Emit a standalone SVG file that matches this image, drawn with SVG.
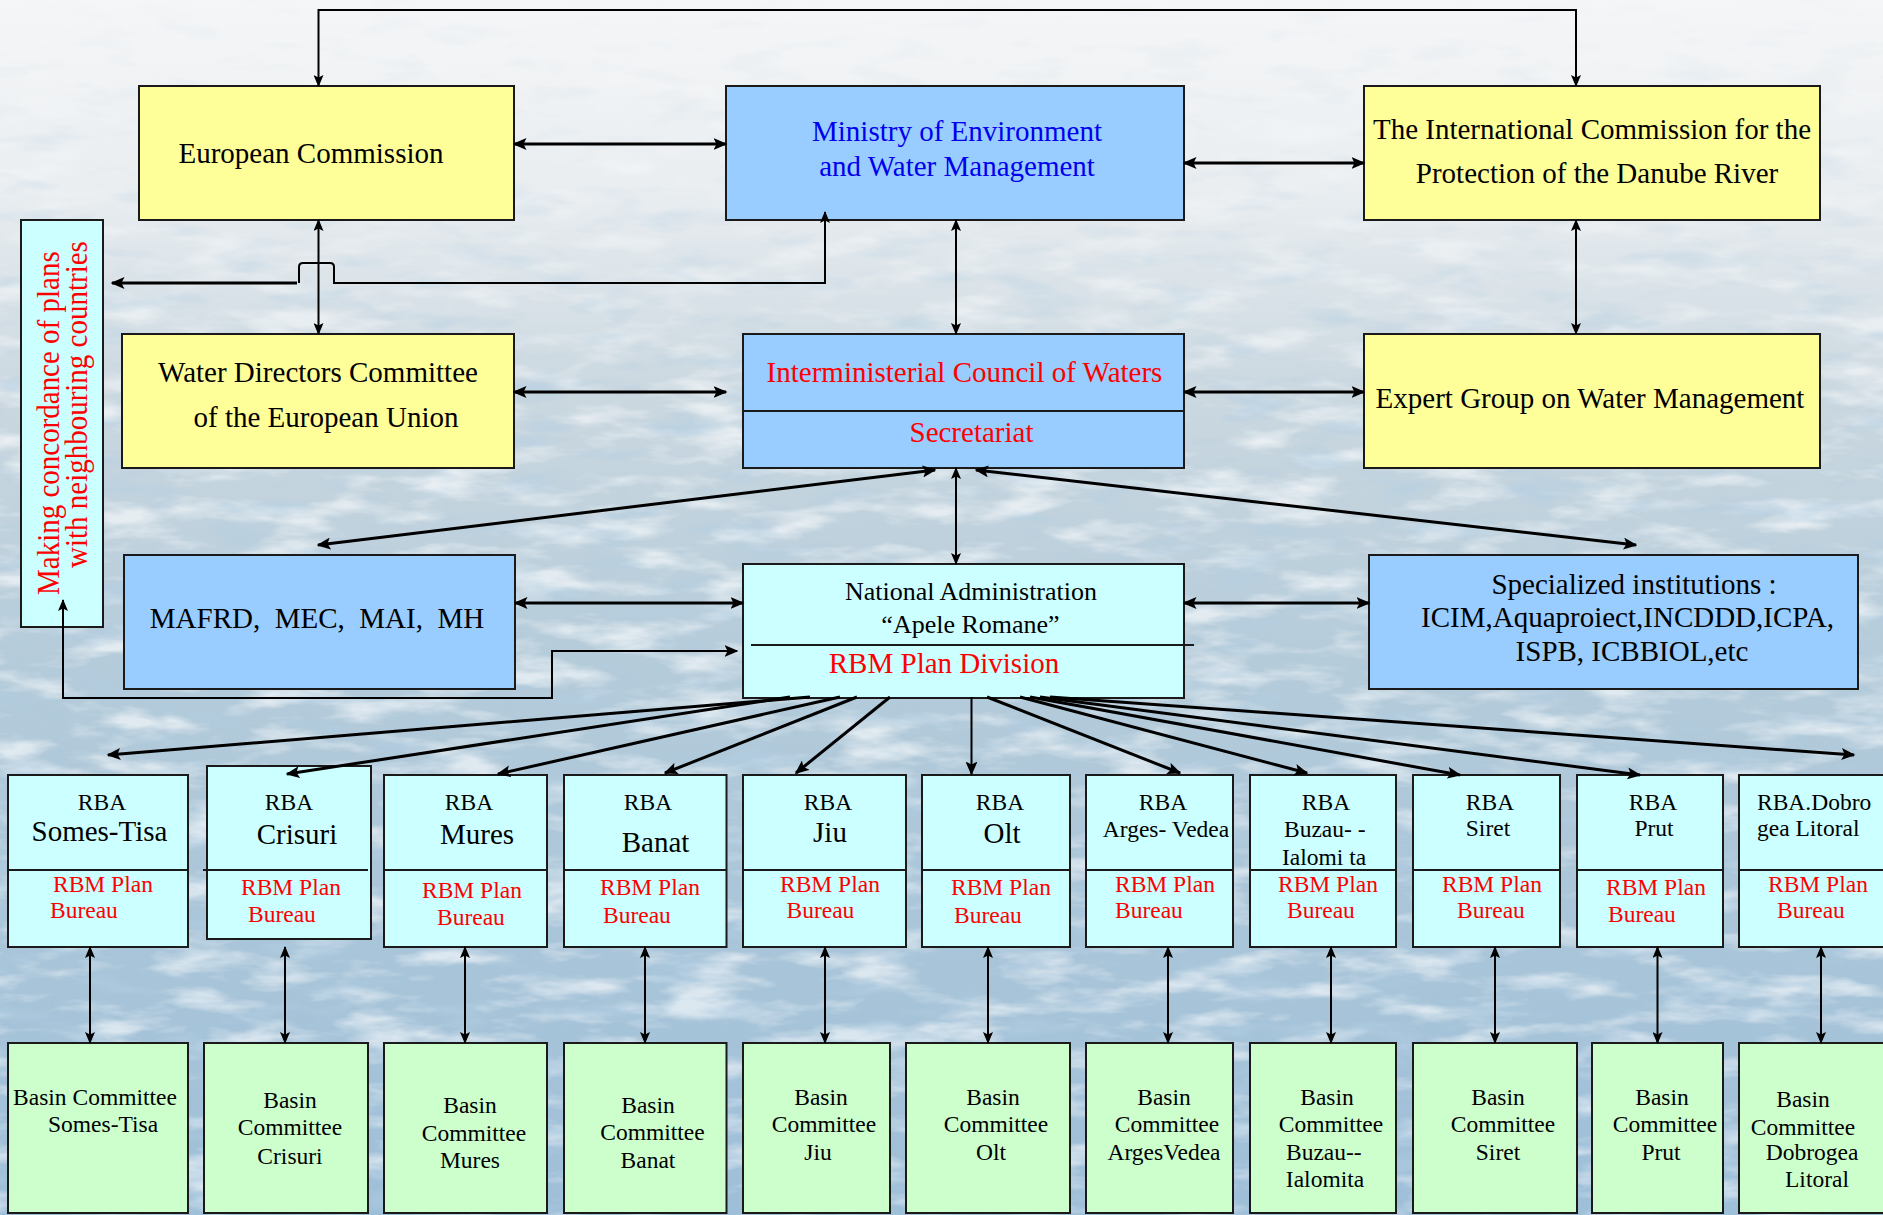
<svg xmlns="http://www.w3.org/2000/svg" width="1883" height="1215" viewBox="0 0 1883 1215">
<defs>
<style>
.box{stroke:#1a1a1a;stroke-width:2}
.y{fill:#FFFF99}.b{fill:#99CCFF}.c{fill:#CCFFFF}.g{fill:#CCFFCC}
.dv{stroke:#1a1a1a;stroke-width:2}
text{font-family:"Liberation Serif","Times New Roman",serif;font-size:29px;fill:#000;text-anchor:middle}
.st{text-anchor:start}
.red{fill:#FF0000}
.blu{fill:#0000EE}
.s{font-size:23.5px}
.m{font-size:26px}
.pre{white-space:pre}
.ln{fill:none;stroke:#000;stroke-width:3}
.th{fill:none;stroke:#000;stroke-width:2}
</style>
<linearGradient id="bg" x1="0" y1="0" x2="0" y2="1">
<stop offset="0" stop-color="#F5F6F7"/>
<stop offset="0.15" stop-color="#EAEEF1"/>
<stop offset="0.32" stop-color="#CBD8E0"/>
<stop offset="0.55" stop-color="#B4CBDA"/>
<stop offset="1" stop-color="#9EBFD8"/>
</linearGradient>
<linearGradient id="fade" x1="0" y1="0" x2="0" y2="1">
<stop offset="0" stop-color="#fff" stop-opacity="0.1"/>
<stop offset="0.18" stop-color="#fff" stop-opacity="0.5"/>
<stop offset="0.35" stop-color="#fff" stop-opacity="1"/>
<stop offset="1" stop-color="#fff" stop-opacity="1"/>
</linearGradient>
<mask id="fm" maskUnits="userSpaceOnUse" x="0" y="0" width="1883" height="1215">
<rect width="1883" height="1215" fill="url(#fade)"/>
</mask>
<filter id="tex1" filterUnits="userSpaceOnUse" x="0" y="0" width="1883" height="1215">
<feTurbulence type="fractalNoise" baseFrequency="0.012 0.042" numOctaves="4" seed="7"/>
<feColorMatrix type="matrix" values="0 0 0 0 1  0 0 0 0 1  0 0 0 0 1  3.2 0 0 0 -1.5"/>
</filter>
<filter id="tex2" filterUnits="userSpaceOnUse" x="0" y="0" width="1883" height="1215">
<feTurbulence type="fractalNoise" baseFrequency="0.014 0.048" numOctaves="3" seed="21"/>
<feColorMatrix type="matrix" values="0 0 0 0 0.45  0 0 0 0 0.62  0 0 0 0 0.77  -3.2 0 0 0 1.5"/>
</filter>
<marker id="a" viewBox="0 0 14 12" refX="12.5" refY="6" markerWidth="14" markerHeight="12" markerUnits="userSpaceOnUse" orient="auto-start-reverse">
<path d="M0,0 L14,6 L0,12 L3,6 z" fill="#000"/>
</marker>
<marker id="as" viewBox="0 0 12 10" refX="11" refY="5" markerWidth="12" markerHeight="10" markerUnits="userSpaceOnUse" orient="auto-start-reverse">
<path d="M0,0 L12,5 L0,10 L2.5,5 z" fill="#000"/>
</marker>
</defs>

<g id="background">
<rect width="1883" height="1215" fill="url(#bg)"/>
<g mask="url(#fm)">
<rect width="1883" height="1215" filter="url(#tex1)" opacity="0.6"/>
<rect width="1883" height="1215" filter="url(#tex2)" opacity="0.55"/>
</g>
</g>

<g id="european-commission">
<rect class="box y" x="139" y="86" width="375" height="134"/>
<text x="311" y="163">European Commission</text>
</g>
<g id="ministry">
<rect class="box b" x="726" y="86" width="458" height="134"/>
<text class="blu" x="957" y="141">Ministry of Environment</text>
<text class="blu" x="957" y="176">and Water Management</text>
</g>
<g id="icpdr">
<rect class="box y" x="1364" y="86" width="456" height="134"/>
<text x="1592" y="139">The International Commission for the</text>
<text x="1597" y="183">Protection of the Danube River</text>
</g>
<g id="neighbour-plans">
<rect class="box c" x="21" y="220" width="82" height="407"/>
<text class="red st" transform="translate(59,595) rotate(-90) scale(1,1.1)">Making concordance of plans</text>
<text class="red st" transform="translate(87,568) rotate(-90) scale(1,1.1)">with neighbouring countries</text>
</g>
<g id="water-directors">
<rect class="box y" x="122" y="334" width="392" height="134"/>
<text x="318" y="382">Water Directors Committee</text>
<text x="326" y="427">of the European Union</text>
</g>
<g id="interministerial-council">
<rect class="box b" x="743" y="334" width="441" height="134"/>
<line class="dv" x1="743" y1="411" x2="1184" y2="411"/>
<text class="red" x="964.5" y="382">Interministerial Council of Waters</text>
<text class="red" x="971.5" y="442">Secretariat</text>
</g>
<g id="expert-group">
<rect class="box y" x="1364" y="334" width="456" height="134"/>
<text x="1590" y="408">Expert Group on Water Management</text>
</g>
<g id="ministries">
<rect class="box b" x="124" y="555" width="391" height="134"/>
<text class="pre" x="317" y="628">MAFRD,  MEC,  MAI,  MH</text>
</g>
<g id="national-administration">
<rect class="box c" x="743" y="564" width="441" height="134"/>
<line class="dv" x1="751" y1="645" x2="1194" y2="645"/>
<text class="m" x="971" y="600">National Administration</text>
<text class="m" x="970.5" y="633">“Apele Romane”</text>
<text class="red" x="944" y="673">RBM Plan Division</text>
</g>
<g id="specialized-institutions">
<rect class="box b" x="1369" y="555" width="489" height="134"/>
<text x="1634" y="594">Specialized institutions :</text>
<text x="1627.5" y="627">ICIM,Aquaproiect,INCDDD,ICPA,</text>
<text x="1632" y="661">ISPB, ICBBIOL,etc</text>
</g>

<g id="rba-somes-tisa">
<rect class="box c" x="8" y="775" width="180" height="172"/>
<line class="dv" x1="8" y1="870" x2="188" y2="870"/>
<text class="s" x="102" y="810">RBA</text>
<text x="99.5" y="841">Somes-Tisa</text>
<text class="s red st" x="53" y="892">RBM Plan</text>
<text class="s red st" x="50" y="918">Bureau</text>
</g>
<g id="rba-crisuri">
<rect class="box c" x="207" y="766" width="164" height="173"/>
<line class="dv" x1="203" y1="870" x2="368" y2="870"/>
<text class="s" x="289" y="810">RBA</text>
<text x="297" y="844">Crisuri</text>
<text class="s red st" x="241" y="895">RBM Plan</text>
<text class="s red st" x="248" y="922">Bureau</text>
</g>
<g id="rba-mures">
<rect class="box c" x="384" y="775" width="163" height="172"/>
<line class="dv" x1="384" y1="870" x2="547" y2="870"/>
<text class="s" x="469" y="810">RBA</text>
<text x="477" y="844">Mures</text>
<text class="s red st" x="422" y="898">RBM Plan</text>
<text class="s red st" x="437" y="925">Bureau</text>
</g>
<g id="rba-banat">
<rect class="box c" x="564" y="775" width="162.5" height="172"/>
<line class="dv" x1="564" y1="870" x2="726.5" y2="870"/>
<text class="s" x="648" y="810">RBA</text>
<text x="655.5" y="852">Banat</text>
<text class="s red st" x="600" y="895">RBM Plan</text>
<text class="s red st" x="603" y="923">Bureau</text>
</g>
<g id="rba-jiu">
<rect class="box c" x="743" y="775" width="163" height="172"/>
<line class="dv" x1="743" y1="870" x2="906" y2="870"/>
<text class="s" x="828" y="810">RBA</text>
<text x="830" y="842">Jiu</text>
<text class="s red st" x="780" y="892">RBM Plan</text>
<text class="s red st" x="786.5" y="918">Bureau</text>
</g>
<g id="rba-olt">
<rect class="box c" x="922" y="775" width="148" height="172"/>
<line class="dv" x1="922" y1="870" x2="1070" y2="870"/>
<text class="s" x="1000" y="810">RBA</text>
<text x="1002" y="843">Olt</text>
<text class="s red st" x="951" y="895">RBM Plan</text>
<text class="s red st" x="954" y="923">Bureau</text>
</g>
<g id="rba-arges-vedea">
<rect class="box c" x="1086" y="775" width="147" height="172"/>
<line class="dv" x1="1086" y1="870" x2="1233" y2="870"/>
<text class="s" x="1163" y="810">RBA</text>
<text class="s pre" x="1166" y="837">Arges- Vedea</text>
<text class="s red st" x="1115" y="892">RBM Plan</text>
<text class="s red st" x="1115" y="918">Bureau</text>
</g>
<g id="rba-buzau-ialomita">
<rect class="box c" x="1250" y="775" width="146" height="172"/>
<line class="dv" x1="1250" y1="870" x2="1396" y2="870"/>
<text class="s" x="1326" y="810">RBA</text>
<text class="s st pre" x="1284" y="837">Buzau- -</text>
<text class="s st" x="1282" y="865">Ialomi ta</text>
<text class="s red st" x="1278" y="892">RBM Plan</text>
<text class="s red st" x="1287" y="918">Bureau</text>
</g>
<g id="rba-siret">
<rect class="box c" x="1413" y="775" width="147" height="172"/>
<line class="dv" x1="1413" y1="870" x2="1560" y2="870"/>
<text class="s" x="1490" y="810">RBA</text>
<text class="s" x="1488" y="836">Siret</text>
<text class="s red st" x="1442" y="892">RBM Plan</text>
<text class="s red st" x="1457" y="918">Bureau</text>
</g>
<g id="rba-prut">
<rect class="box c" x="1577" y="775" width="146" height="172"/>
<line class="dv" x1="1577" y1="870" x2="1723" y2="870"/>
<text class="s" x="1653" y="810">RBA</text>
<text class="s" x="1654" y="836">Prut</text>
<text class="s red st" x="1606" y="895">RBM Plan</text>
<text class="s red st" x="1608" y="922">Bureau</text>
</g>
<g id="rba-dobrogea-litoral">
<rect class="box c" x="1739" y="775" width="160" height="172"/>
<line class="dv" x1="1739" y1="870" x2="1899" y2="870"/>
<text class="s st" x="1757" y="810">RBA.Dobro</text>
<text class="s st" x="1757" y="836">gea Litoral</text>
<text class="s red st" x="1768" y="892">RBM Plan</text>
<text class="s red st" x="1777" y="918">Bureau</text>
</g>

<g id="bc-somes-tisa">
<rect class="box g" x="8" y="1043" width="180" height="170"/>
<text class="s" x="95" y="1105">Basin Committee</text>
<text class="s st" x="48" y="1132">Somes-Tisa</text>
</g>
<g id="bc-crisuri">
<rect class="box g" x="204" y="1043" width="164" height="170"/>
<text class="s" x="290" y="1108">Basin</text>
<text class="s" x="290" y="1135">Committee</text>
<text class="s" x="290" y="1164">Crisuri</text>
</g>
<g id="bc-mures">
<rect class="box g" x="384" y="1043" width="163" height="170"/>
<text class="s" x="470" y="1113">Basin</text>
<text class="s" x="474" y="1141">Committee</text>
<text class="s" x="470" y="1168">Mures</text>
</g>
<g id="bc-banat">
<rect class="box g" x="564" y="1043" width="162.5" height="170"/>
<text class="s" x="648" y="1113">Basin</text>
<text class="s" x="652.5" y="1140">Committee</text>
<text class="s" x="648" y="1168">Banat</text>
</g>
<g id="bc-jiu">
<rect class="box g" x="743" y="1043" width="147" height="170"/>
<text class="s" x="821" y="1105">Basin</text>
<text class="s" x="824" y="1132">Committee</text>
<text class="s" x="818" y="1160">Jiu</text>
</g>
<g id="bc-olt">
<rect class="box g" x="906" y="1043" width="164" height="170"/>
<text class="s" x="993" y="1105">Basin</text>
<text class="s" x="996" y="1132">Committee</text>
<text class="s" x="991" y="1160">Olt</text>
</g>
<g id="bc-arges-vedea">
<rect class="box g" x="1086" y="1043" width="147" height="170"/>
<text class="s" x="1164" y="1105">Basin</text>
<text class="s" x="1167" y="1132">Committee</text>
<text class="s" x="1164" y="1160">ArgesVedea</text>
</g>
<g id="bc-buzau-ialomita">
<rect class="box g" x="1250" y="1043" width="146" height="170"/>
<text class="s" x="1327" y="1105">Basin</text>
<text class="s" x="1331" y="1132">Committee</text>
<text class="s st" x="1286" y="1160">Buzau--</text>
<text class="s" x="1325" y="1187">Ialomita</text>
</g>
<g id="bc-siret">
<rect class="box g" x="1413" y="1043" width="164" height="170"/>
<text class="s" x="1498" y="1105">Basin</text>
<text class="s" x="1503" y="1132">Committee</text>
<text class="s" x="1498" y="1160">Siret</text>
</g>
<g id="bc-prut">
<rect class="box g" x="1592" y="1043" width="131" height="170"/>
<text class="s" x="1662" y="1105">Basin</text>
<text class="s" x="1665" y="1132">Committee</text>
<text class="s" x="1661" y="1160">Prut</text>
</g>
<g id="bc-dobrogea-litoral">
<rect class="box g" x="1739" y="1043" width="160" height="170"/>
<text class="s" x="1803" y="1107">Basin</text>
<text class="s" x="1803" y="1135">Committee</text>
<text class="s" x="1812" y="1160">Dobrogea</text>
<text class="s" x="1817" y="1187">Litoral</text>
</g>

<g id="connectors">
<path class="th" d="M318.5,86 L318.5,10 L1576,10 L1576,86" marker-start="url(#as)" marker-end="url(#as)"/>
<line class="ln" x1="514" y1="144" x2="726" y2="144" marker-start="url(#a)" marker-end="url(#a)"/>
<line class="ln" x1="1184" y1="163" x2="1364" y2="163" marker-start="url(#a)" marker-end="url(#a)"/>
<line class="th" x1="318.5" y1="220" x2="318.5" y2="334" marker-start="url(#as)" marker-end="url(#as)"/>
<line class="th" x1="956" y1="220" x2="956" y2="334" marker-start="url(#as)" marker-end="url(#as)"/>
<line class="th" x1="1576" y1="220" x2="1576" y2="334" marker-start="url(#as)" marker-end="url(#as)"/>
<path class="th" d="M299,283 L299,267 Q299,263 303,263 L330,263 Q334,263 334,267 L334,283 L825,283 L825,212" marker-end="url(#as)"/>
<line class="ln" x1="297" y1="283" x2="112" y2="283" marker-end="url(#a)"/>
<line class="ln" x1="514" y1="392" x2="726" y2="392" marker-start="url(#a)" marker-end="url(#a)"/>
<line class="ln" x1="1184" y1="392" x2="1364" y2="392" marker-start="url(#a)" marker-end="url(#a)"/>
<line class="ln" x1="935" y1="470" x2="318" y2="545" marker-start="url(#a)" marker-end="url(#a)"/>
<line class="ln" x1="976" y1="470" x2="1636" y2="545" marker-start="url(#a)" marker-end="url(#a)"/>
<line class="th" x1="956" y1="468" x2="956" y2="564" marker-start="url(#as)" marker-end="url(#as)"/>
<line class="ln" x1="515" y1="603" x2="743" y2="603" marker-start="url(#a)" marker-end="url(#a)"/>
<line class="ln" x1="1184" y1="603" x2="1369" y2="603" marker-start="url(#a)" marker-end="url(#a)"/>
<path class="th" d="M63,600 L63,698 L552,698 L552,651 L737,651" marker-start="url(#as)" marker-end="url(#a)"/>
<line class="ln" x1="810" y1="697" x2="108" y2="755" marker-end="url(#a)"/>
<line class="ln" x1="790" y1="697" x2="287" y2="774" marker-end="url(#a)"/>
<line class="ln" x1="840" y1="697" x2="498" y2="774" marker-end="url(#a)"/>
<line class="ln" x1="857" y1="697" x2="665" y2="773" marker-end="url(#a)"/>
<line class="ln" x1="890" y1="697" x2="796" y2="773" marker-end="url(#a)"/>
<line class="th" x1="971.5" y1="697" x2="971.5" y2="774" marker-end="url(#a)"/>
<line class="ln" x1="987" y1="697" x2="1180" y2="773" marker-end="url(#a)"/>
<line class="ln" x1="1020" y1="697" x2="1307" y2="773" marker-end="url(#a)"/>
<line class="ln" x1="1030" y1="697" x2="1460" y2="775" marker-end="url(#a)"/>
<line class="ln" x1="1040" y1="697" x2="1640" y2="775" marker-end="url(#a)"/>
<line class="ln" x1="1050" y1="697" x2="1854" y2="755" marker-end="url(#a)"/>
<line class="th" x1="90" y1="947" x2="90" y2="1043" marker-start="url(#as)" marker-end="url(#as)"/>
<line class="th" x1="285" y1="947" x2="285" y2="1043" marker-start="url(#as)" marker-end="url(#as)"/>
<line class="th" x1="465" y1="947" x2="465" y2="1043" marker-start="url(#as)" marker-end="url(#as)"/>
<line class="th" x1="645" y1="947" x2="645" y2="1043" marker-start="url(#as)" marker-end="url(#as)"/>
<line class="th" x1="825" y1="947" x2="825" y2="1043" marker-start="url(#as)" marker-end="url(#as)"/>
<line class="th" x1="988" y1="947" x2="988" y2="1043" marker-start="url(#as)" marker-end="url(#as)"/>
<line class="th" x1="1168" y1="947" x2="1168" y2="1043" marker-start="url(#as)" marker-end="url(#as)"/>
<line class="th" x1="1331" y1="947" x2="1331" y2="1043" marker-start="url(#as)" marker-end="url(#as)"/>
<line class="th" x1="1495" y1="947" x2="1495" y2="1043" marker-start="url(#as)" marker-end="url(#as)"/>
<line class="th" x1="1657.5" y1="947" x2="1657.5" y2="1043" marker-start="url(#as)" marker-end="url(#as)"/>
<line class="th" x1="1821" y1="947" x2="1821" y2="1043" marker-start="url(#as)" marker-end="url(#as)"/>
</g>
</svg>
